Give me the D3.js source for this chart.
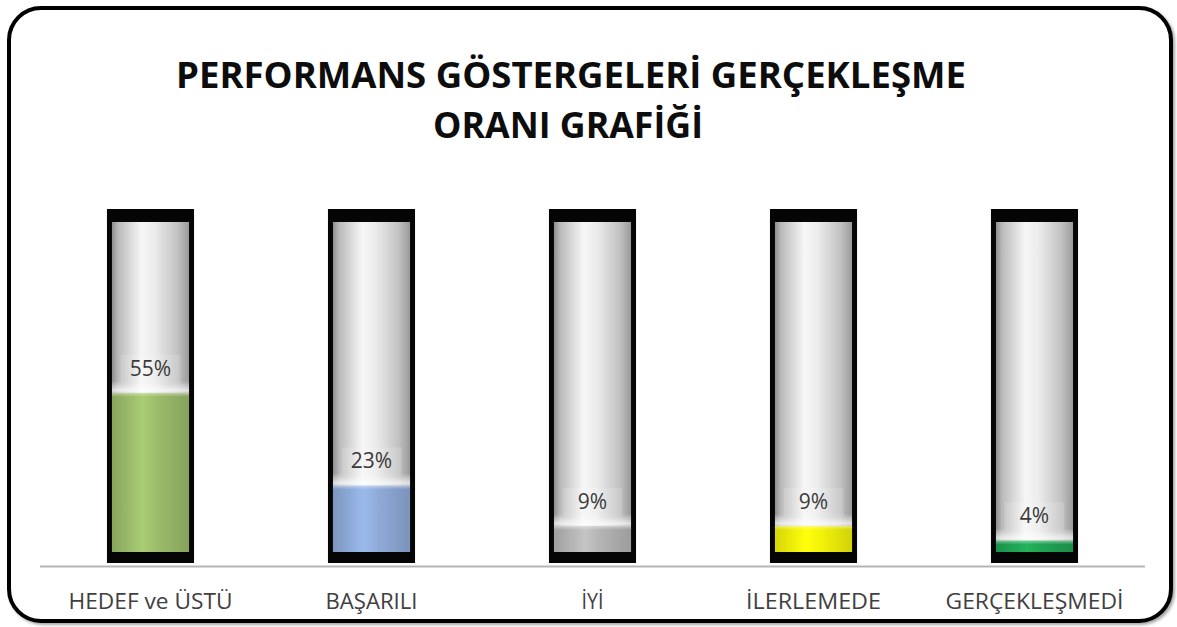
<!DOCTYPE html>
<html>
<head>
<meta charset="utf-8">
<script src="https://cdn.jsdelivr.net/npm/d3@7"></script>
<style>
  html, body { margin: 0; padding: 0; background: #ffffff; }
  svg { display: block; }
</style>
</head>
<body>
<svg id="chart" width="1177" height="627"></svg>
<script>
// Performance indicator realisation rates
const categories = ["HEDEF ve ÜSTÜ", "BAŞARILI", "İYİ", "İLERLEMEDE", "GERÇEKLEŞMEDİ"];
const values = [0.55, 0.23, 0.09, 0.09, 0.04];
const valueLabels = ["55%", "23%", "9%", "9%", "4%"];
const fillColors = ["#9bbb6a", "#8eaad8", "#b4b4b4", "#f2f20a", "#1fa454"];
const titleLines = ["PERFORMANS GÖSTERGELERİ GERÇEKLEŞME", "ORANI GRAFİĞİ"];
const axisMax = [1.14];

const W = 1177, H = 627;
const svg = d3.select("#chart");
const defs = svg.append("defs");
const font = "'Open Sans', 'DejaVu Sans', sans-serif";

// Outer rounded chart frame with a soft shadow
const sh = defs.append("filter").attr("id", "shadow").attr("x", "-5%").attr("y", "-5%").attr("width", "110%").attr("height", "110%");
sh.append("feDropShadow").attr("dx", 2).attr("dy", 2).attr("stdDeviation", 1.5).attr("flood-color", "#000").attr("flood-opacity", 0.35);

svg.append("rect")
  .attr("x", 9).attr("y", 8).attr("width", 1162).attr("height", 613)
  .attr("rx", 32).attr("ry", 32)
  .attr("fill", "#ffffff").attr("stroke", "#000").attr("stroke-width", 4)
  .attr("filter", "url(#shadow)");

// Title (two centred lines, condensed)
svg.append("text")
  .attr("x", 571).attr("y", 88)
  .attr("text-anchor", "middle")
  .attr("font-family", font).attr("font-weight", 700).attr("font-size", 35)
  .attr("textLength", 790).attr("lengthAdjust", "spacingAndGlyphs")
  .attr("fill", "#0d0d0d")
  .text(titleLines[0]);
svg.append("text")
  .attr("x", 568).attr("y", 138)
  .attr("text-anchor", "middle")
  .attr("font-family", font).attr("font-weight", 700).attr("font-size", 35)
  .attr("textLength", 270).attr("lengthAdjust", "spacingAndGlyphs")
  .attr("fill", "#0d0d0d")
  .text(titleLines[1]);

// Scales
const x = d3.scaleBand().domain(categories).range([40, 1145]).paddingInner(0.606).paddingOuter(0.303);
const y = d3.scaleLinear().domain([0, axisMax[0]]).range([552, 222]);

// Gradients: silver tube and one per fill colour
const tubeGrad = defs.append("linearGradient").attr("id", "tube").attr("x1", "0").attr("x2", "1").attr("y1", "0").attr("y2", "0");
[[0, "#8e8e8e"], [0.08, "#bababa"], [0.38, "#f6f6f6"], [0.55, "#ececec"], [0.85, "#c2c2c2"], [1, "#9a9a9a"]]
  .forEach(([o, c]) => tubeGrad.append("stop").attr("offset", o).attr("stop-color", c));

fillColors.forEach((col, i) => {
  const g = defs.append("linearGradient").attr("id", "fill" + i).attr("x1", "0").attr("x2", "1").attr("y1", "0").attr("y2", "0");
  const c = d3.color(col);
  g.append("stop").attr("offset", 0).attr("stop-color", c.darker(0.35));
  g.append("stop").attr("offset", 0.4).attr("stop-color", c.brighter(0.25));
  g.append("stop").attr("offset", 0.6).attr("stop-color", c);
  g.append("stop").attr("offset", 1).attr("stop-color", c.darker(0.4));
});
// soft highlight at the fill surface
const gloss = defs.append("linearGradient").attr("id", "gloss").attr("x1", "0").attr("x2", "0").attr("y1", "0").attr("y2", "1");
gloss.append("stop").attr("offset", 0).attr("stop-color", "#ffffff").attr("stop-opacity", 0.0);
gloss.append("stop").attr("offset", 0.6).attr("stop-color", "#ffffff").attr("stop-opacity", 0.7);
gloss.append("stop").attr("offset", 1).attr("stop-color", "#ffffff").attr("stop-opacity", 0.0);

const data = categories.map((c, i) => ({ cat: c, v: values[i], label: valueLabels[i], i }));

const frameCap = 13, frameBottom = 11, side = 5;
const bars = svg.append("g").selectAll("g").data(data).join("g");

// Black frame
bars.append("rect")
  .attr("x", d => x(d.cat)).attr("width", x.bandwidth())
  .attr("y", y(axisMax[0]) - frameCap)
  .attr("height", y(0) - y(axisMax[0]) + frameCap + frameBottom)
  .attr("fill", "#050505");

// Silver tube background
bars.append("rect")
  .attr("x", d => x(d.cat) + side).attr("width", x.bandwidth() - 2 * side)
  .attr("y", y(axisMax[0]))
  .attr("height", y(0) - y(axisMax[0]))
  .attr("fill", "url(#tube)");

// Coloured fill
bars.append("rect")
  .attr("x", d => x(d.cat) + side).attr("width", x.bandwidth() - 2 * side)
  .attr("y", d => y(d.v))
  .attr("height", d => y(0) - y(d.v))
  .attr("fill", d => `url(#fill${d.i})`);

// Highlight band at the surface of each fill
bars.append("rect")
  .attr("x", d => x(d.cat) + side).attr("width", x.bandwidth() - 2 * side)
  .attr("y", d => y(d.v) - 12)
  .attr("height", 16)
  .attr("fill", "url(#gloss)");

// Value labels with a faint light backing
bars.append("rect")
  .attr("x", d => x(d.cat) + x.bandwidth() / 2 - 30)
  .attr("y", d => y(d.v) - 38)
  .attr("width", 60).attr("height", 28)
  .attr("fill", "#ffffff").attr("opacity", 0.15);
bars.append("text")
  .attr("x", d => x(d.cat) + x.bandwidth() / 2)
  .attr("y", d => y(d.v) - 17)
  .attr("text-anchor", "middle")
  .attr("font-family", font)
  .attr("font-size", 21)
  .attr("fill", "#3a3a3a")
  .text(d => d.label);

// Baseline
svg.append("line")
  .attr("x1", 40).attr("x2", 1145).attr("y1", 566.5).attr("y2", 566.5)
  .attr("stroke", "#b5b5b5").attr("stroke-width", 2);

// Category labels
const labelWidths = { "HEDEF ve ÜSTÜ": 164, "BAŞARILI": 92, "İYİ": 22, "İLERLEMEDE": 135, "GERÇEKLEŞMEDİ": 178 };
const xAxis = d3.axisBottom(x).tickSize(0).tickPadding(0);
const ax = svg.append("g").attr("transform", "translate(0,594)").call(xAxis);
ax.select(".domain").remove();
ax.selectAll("text")
  .attr("font-family", font)
  .attr("font-size", 21)
  .attr("fill", "#404040")
  .attr("dy", "0.71em")
  .attr("textLength", d => labelWidths[d])
  .attr("lengthAdjust", "spacingAndGlyphs");
</script>
</body>
</html>
